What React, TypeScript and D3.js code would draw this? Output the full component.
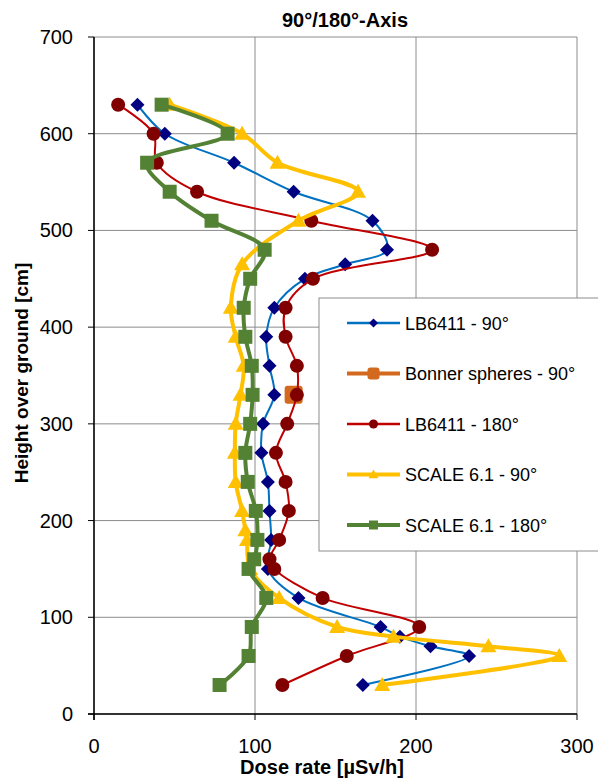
import React from "react";
import * as d3 from "d3";

const xTicks = [0, 100, 200, 300];
const yTicks = [0, 100, 200, 300, 400, 500, 600, 700];

const lb90H = [630, 600, 570, 540, 510, 480, 465, 450, 420, 390, 360, 330, 300, 270, 240, 210, 180, 150, 120, 90, 80, 70, 60, 30];
const lb90V = [27, 44, 87, 124, 173, 182, 156, 131, 112, 107, 109, 112, 105, 104, 108, 109, 110, 108, 127, 178, 190, 209, 233, 167];

const bonnerH = [330];
const bonnerV = [124];

const lb180H = [630, 600, 570, 540, 510, 480, 450, 420, 390, 360, 330, 300, 270, 240, 210, 180, 160, 150, 120, 90, 60, 30];
const lb180V = [15, 37, 39, 64, 135, 210, 136, 119, 119, 126, 126, 120, 113, 119, 121, 115, 109, 112, 142, 202, 157, 117];

const sc90H = [630, 600, 570, 540, 510, 465, 420, 390, 360, 330, 300, 270, 240, 210, 190, 180, 150, 120, 90, 80, 70, 60, 30];
const sc90V = [47, 92, 114, 164, 127, 92, 85, 88, 93, 91, 88, 87.5, 88, 92, 94, 95, 97, 115, 151, 186, 245, 289, 179];

const sc180H = [630, 600, 570, 540, 510, 480, 450, 420, 390, 360, 330, 300, 270, 240, 210, 180, 160, 150, 120, 90, 60, 30];
const sc180V = [42, 83, 33, 47, 73, 106, 97, 93, 94, 98, 98.5, 97, 94, 95.5, 100.5, 101.5, 99.5, 96, 107, 98, 96, 78];

const seriesNames = ["LB6411 - 90°", "Bonner spheres - 90°", "LB6411 - 180°", "SCALE 6.1 - 90°", "SCALE 6.1 - 180°"];

type Marker = "diamond" | "rsquare" | "circle" | "triangle" | "square";

const seriesStyle: { line: string; fill: string; width: number; marker: Marker; ms: number }[] = [
  { line: "#0070C0", fill: "#000080", width: 2, marker: "diamond", ms: 7 },
  { line: "#D2691E", fill: "#D2691E", width: 4, marker: "rsquare", ms: 9 },
  { line: "#C00000", fill: "#800000", width: 2, marker: "circle", ms: 7 },
  { line: "#FFC000", fill: "#FFC000", width: 4, marker: "triangle", ms: 8 },
  { line: "#548235", fill: "#548235", width: 4, marker: "square", ms: 7 },
];

const FONT = "'Liberation Sans', Arial, sans-serif";

function MarkerShape({ type, x, y, s, fill }: { type: Marker; x: number; y: number; s: number; fill: string }) {
  if (type === "diamond") {
    return <path d={`M${x},${y - s}L${x + s},${y}L${x},${y + s}L${x - s},${y}Z`} fill={fill} />;
  }
  if (type === "circle") return <circle cx={x} cy={y} r={s} fill={fill} />;
  if (type === "square") return <rect x={x - s} y={y - s} width={2 * s} height={2 * s} fill={fill} />;
  if (type === "rsquare") return <rect x={x - s} y={y - s} width={2 * s} height={2 * s} rx={3} fill={fill} />;
  return <path d={`M${x},${y - s}L${x + s},${y + s * 0.75}L${x - s},${y + s * 0.75}Z`} fill={fill} />;
}

export default function App() {
  const W = 598, H = 778;
  const x = d3.scaleLinear().domain([0, 300]).range([94, 577]);
  const y = d3.scaleLinear().domain([0, 700]).range([714, 37]);

  const data: [number[], number[]][] = [
    [lb90H, lb90V],
    [bonnerH, bonnerV],
    [lb180H, lb180V],
    [sc90H, sc90V],
    [sc180H, sc180V],
  ];

  const line = d3
    .line<[number, number]>()
    .x((d) => x(d[0]))
    .y((d) => y(d[1]))
    .curve(d3.curveCatmullRom.alpha(0.5));

  const [x0, x1] = x.range();
  const [y0, y1] = y.range();

  const legendX = 319, legendY = 298, legendW = 290, legendH = 253;
  const rowY = (i: number) => 323 + i * 50.5;

  return (
    <svg width={W} height={H} style={{ position: "absolute", left: 0, top: 0, background: "#fff" }} fontFamily={FONT}>
      <rect x={0} y={0} width={W} height={H} fill="#fff" />
      {/* gridlines */}
      {xTicks.map((t) => (
        <line key={"gx" + t} x1={x(t)} x2={x(t)} y1={y1} y2={y0} stroke="#8c8c8c" strokeWidth={1} />
      ))}
      {yTicks.map((t) => (
        <line key={"gy" + t} x1={x0} x2={x1} y1={y(t)} y2={y(t)} stroke="#8c8c8c" strokeWidth={1} />
      ))}
      {/* axes */}
      <line x1={x0} x2={x0} y1={y1} y2={y0 + 6} stroke="#000" strokeWidth={1.5} />
      <line x1={x0 - 6} x2={x1} y1={y0} y2={y0} stroke="#000" strokeWidth={1.5} />
      {yTicks.map((t) => (
        <line key={"ty" + t} x1={x0 - 6} x2={x0} y1={y(t)} y2={y(t)} stroke="#000" strokeWidth={1} />
      ))}
      {xTicks.map((t) => (
        <line key={"tx" + t} x1={x(t)} x2={x(t)} y1={y0} y2={y0 + 6} stroke="#000" strokeWidth={1} />
      ))}
      {yTicks.map((t) => (
        <text key={"ly" + t} x={73} y={y(t) + 7} textAnchor="end" fontSize={20} fill="#000">
          {t}
        </text>
      ))}
      {xTicks.map((t) => (
        <text key={"lx" + t} x={x(t)} y={753} textAnchor="middle" fontSize={20} fill="#000">
          {t}
        </text>
      ))}
      {/* series */}
      {data.map(([hs, vs], i) => {
        const st = seriesStyle[i];
        const pts: [number, number][] = hs.map((h, k) => [vs[k], h]);
        return (
          <g key={"s" + i}>
            {pts.length > 1 && (
              <path d={line(pts) || ""} fill="none" stroke={st.line} strokeWidth={st.width} strokeLinejoin="round" />
            )}
            {pts.map((p, k) => (
              <MarkerShape key={k} type={st.marker} x={x(p[0])} y={y(p[1])} s={st.ms} fill={st.fill} />
            ))}
          </g>
        );
      })}
      {/* titles */}
      <text x={345} y={27} textAnchor="middle" fontSize={20} fontWeight="bold">
        90°/180°-Axis
      </text>
      <text x={322} y={774} textAnchor="middle" fontSize={20} fontWeight="bold">
        Dose rate [µSv/h]
      </text>
      <text transform={`translate(28,373) rotate(-90)`} textAnchor="middle" fontSize={19} fontWeight="bold">
        Height over ground [cm]
      </text>
      {/* legend */}
      <rect x={legendX} y={legendY} width={legendW} height={legendH} fill="#fff" stroke="#8c8c8c" strokeWidth={1} />
      {seriesNames.map((n, i) => {
        const st = seriesStyle[i];
        const ry = rowY(i);
        const ms = st.marker === "rsquare" ? 6 : st.marker === "triangle" ? 5 : 4.5;
        return (
          <g key={"lg" + i}>
            <line x1={347} x2={400} y1={ry} y2={ry} stroke={st.line} strokeWidth={st.width === 2 ? 2.5 : 4} />
            <MarkerShape type={st.marker} x={373.5} y={ry} s={ms} fill={st.fill} />
            <text x={405} y={ry + 6.5} fontSize={18} fill="#000">
              {n}
            </text>
          </g>
        );
      })}
    </svg>
  );
}
